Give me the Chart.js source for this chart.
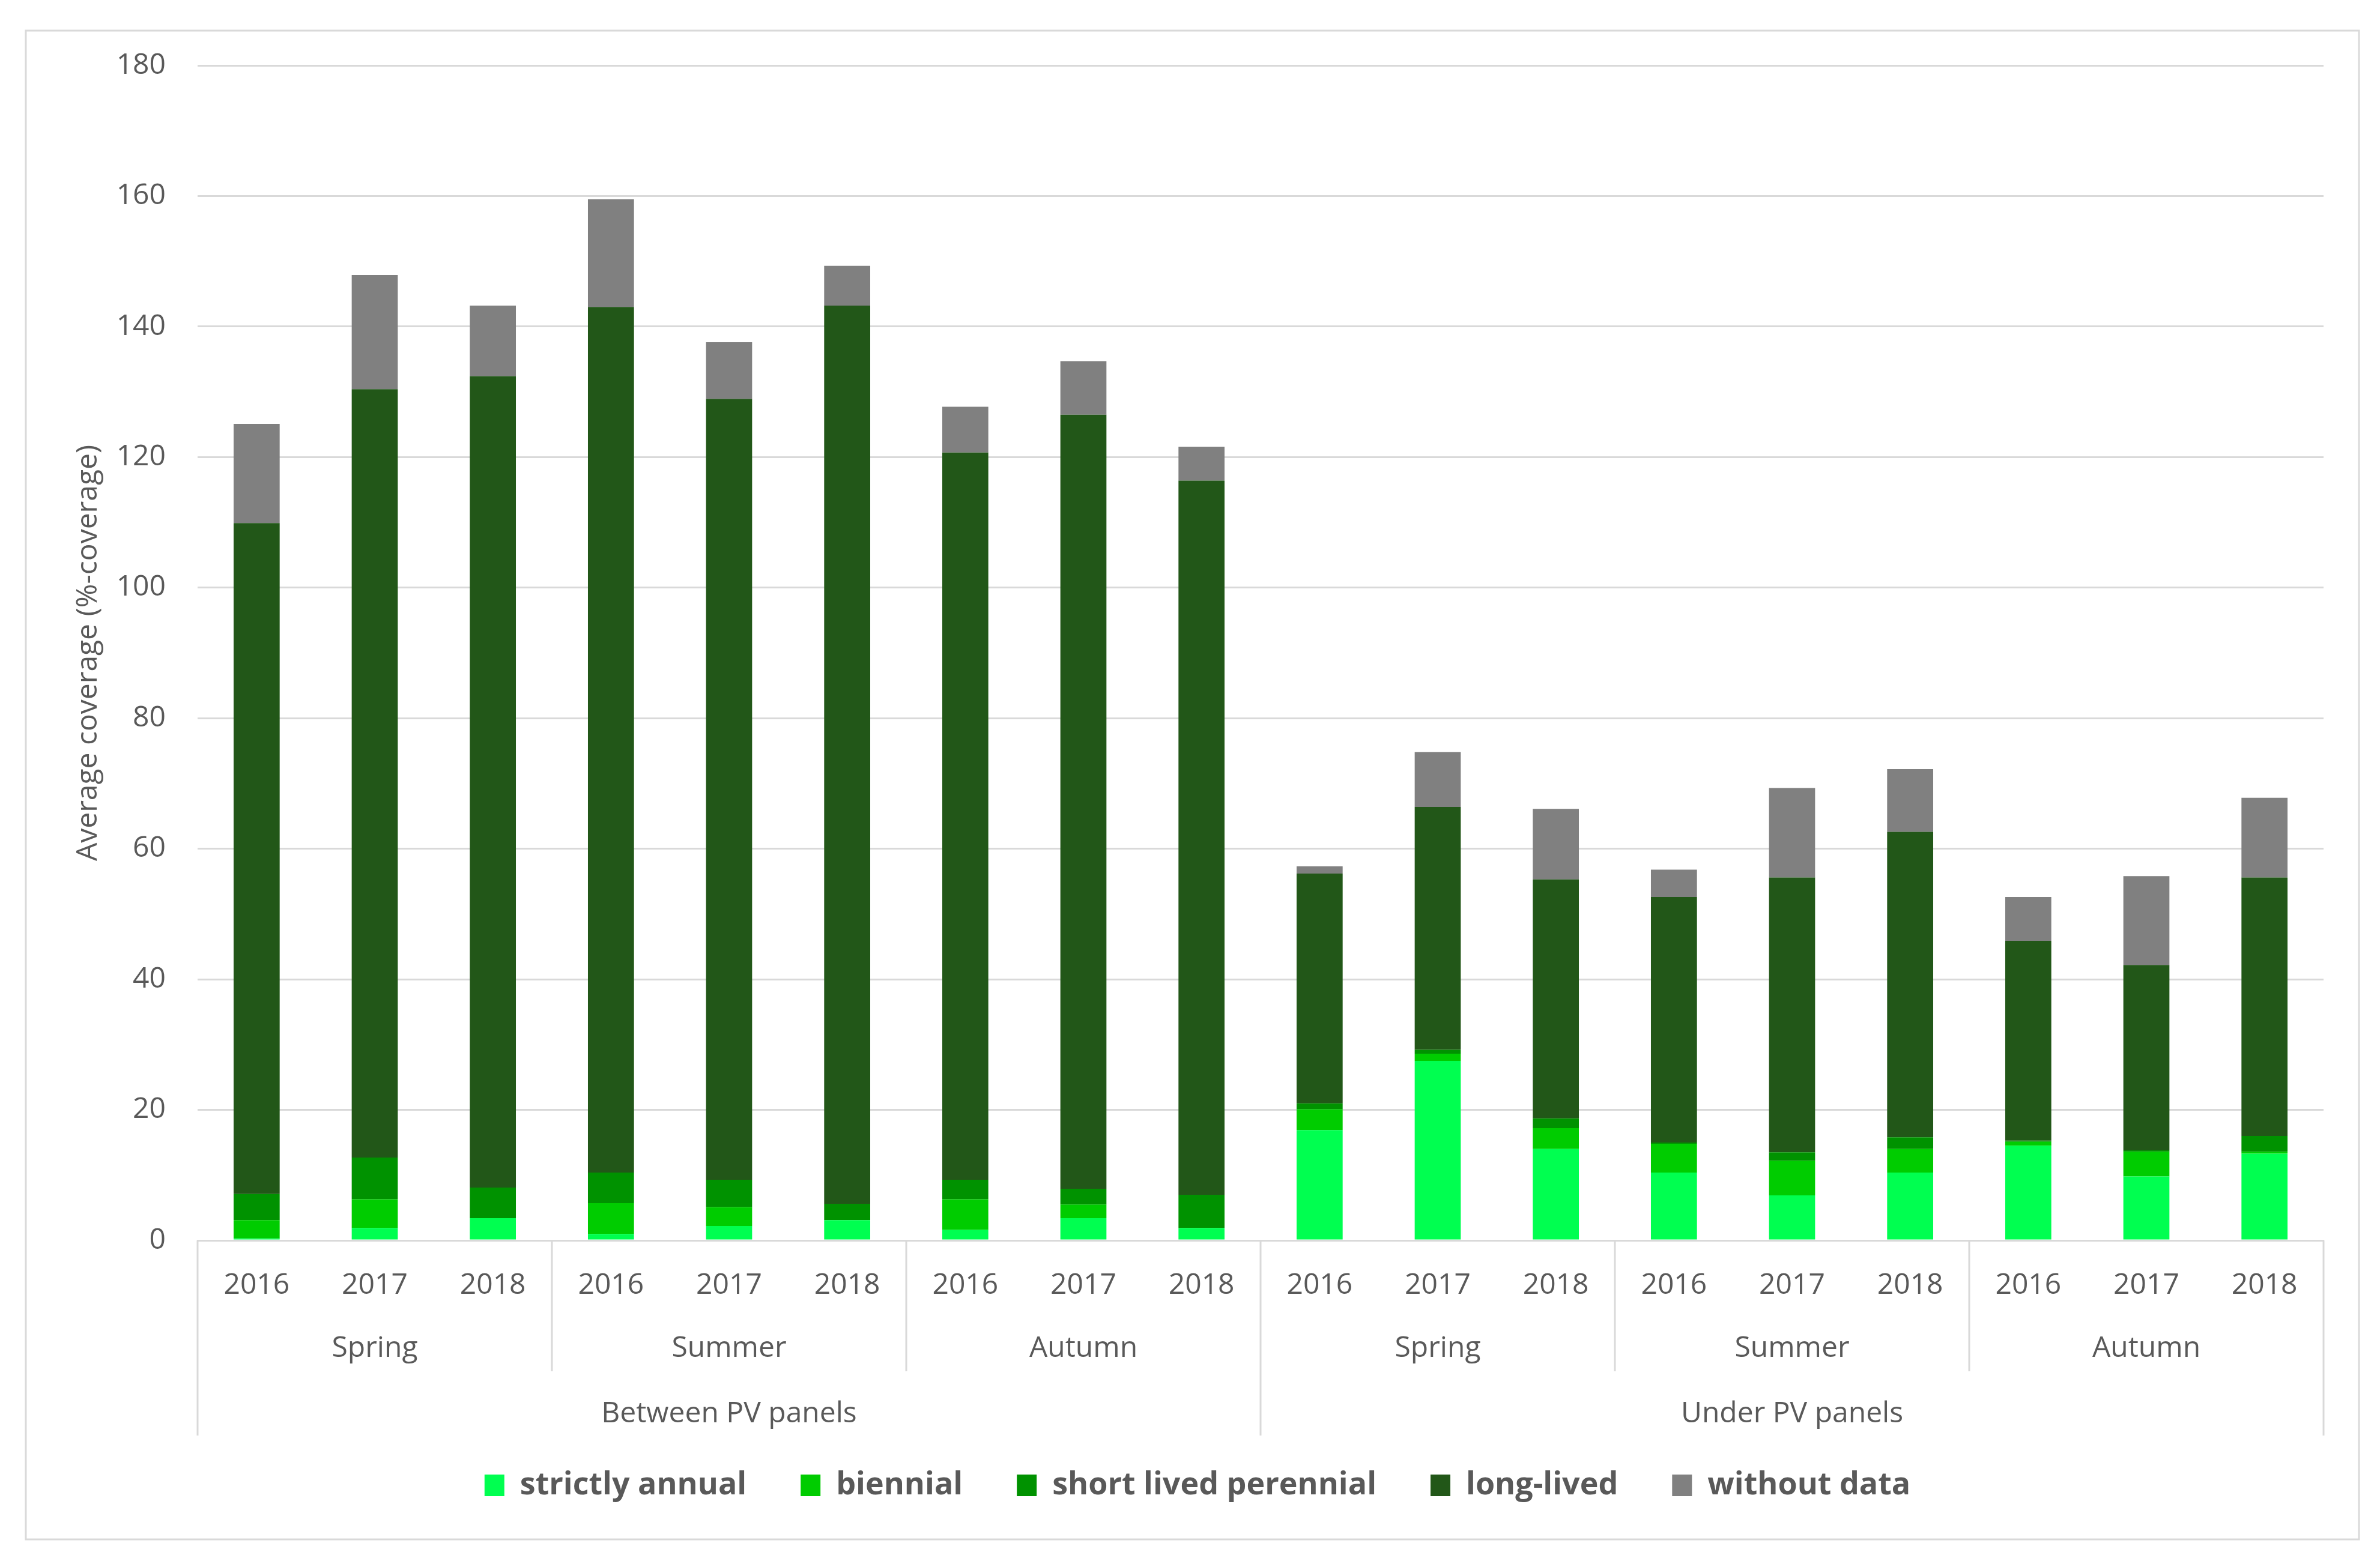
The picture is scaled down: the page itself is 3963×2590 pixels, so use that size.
<!DOCTYPE html>
<html>
<head>
<meta charset="utf-8">
<script src="https://cdn.jsdelivr.net/npm/chart.js@4/dist/chart.umd.min.js"></script>
<style>
  html,body{margin:0;padding:0;background:#fff;}
  canvas{display:block;}
</style>
</head>
<body>
<canvas id="grafico" width="3963" height="2590" style="width:3963px;height:2590px"></canvas>
<script>
/* DADOS */
const sites = ["Between PV panels", "Under PV panels"];
const seasons = ["Spring", "Summer", "Autumn"];
const years = ["2016", "2017", "2018"];
const yTicks = [0, 20, 40, 60, 80, 100, 120, 140, 160, 180];

const strictlyAnnual = [0.3, 1.9, 3.4, 1.0, 2.2, 3.1, 1.6, 3.4, 1.9, 16.9, 27.5, 14.0, 10.4, 6.9, 10.4, 14.5, 9.8, 13.3];
const biennial       = [2.8, 4.4, 0.0, 4.7, 2.9, 0.0, 4.7, 2.1, 0.0, 3.2, 1.1, 3.2, 4.4, 5.3, 3.6, 0.6, 3.8, 0.3];
const shortLived     = [4.0, 6.4, 4.7, 4.7, 4.2, 2.5, 3.0, 2.4, 5.1, 0.9, 0.6, 1.5, 0.2, 1.3, 1.8, 0.2, 0.2, 2.4];
const longLived      = [102.8, 117.7, 124.3, 132.6, 119.6, 137.6, 111.4, 118.6, 109.4, 35.2, 37.2, 36.6, 37.6, 42.1, 46.8, 30.6, 28.4, 39.6];
const withoutData    = [15.2, 17.5, 10.8, 16.5, 8.7, 6.1, 7.0, 8.2, 5.2, 1.1, 8.4, 10.8, 4.2, 13.7, 9.6, 6.7, 13.6, 12.2];

/* CATEGORIAS */
const labels = [], seasonOf = [], siteOf = [];
sites.forEach(s=>{
  seasons.forEach(se=>{
    years.forEach(y=>{
      labels.push(y);
      seasonOf.push(se);
      siteOf.push(s);
    });
  });
});

const cinza = "#595959";
const linha = "#d9d9d9";
const fonte = "'Open Sans', 'DejaVu Sans', sans-serif";

/* EIXO MULTINIVEL + MOLDURA */
const eixoGrupos = {
  id: "eixoGrupos",
  beforeDraw(chart){
    const ctx = chart.ctx;
    ctx.save();
    ctx.fillStyle = "#fff";
    ctx.fillRect(0, 0, chart.width, chart.height);
    ctx.strokeStyle = linha;
    ctx.lineWidth = 3;
    ctx.strokeRect(43, 51, 3885, 2513);
    ctx.restore();
  },
  afterDraw(chart){
    const ctx = chart.ctx;
    const x = chart.scales.x;
    const base = chart.chartArea.bottom;
    const meio = i => (x.getPixelForValue(i-1) + x.getPixelForValue(i)) / 2;
    const borda = i => i === 0 ? chart.chartArea.left : (i === labels.length ? chart.chartArea.right : meio(i));

    ctx.save();
    ctx.strokeStyle = linha;
    ctx.lineWidth = 3;
    for(let i=0;i<=labels.length;i++){
      let fim = null;
      if(i===0 || i===labels.length || siteOf[i]!==siteOf[i-1]) fim = base + 325;
      else if(seasonOf[i]!==seasonOf[i-1]) fim = base + 218;
      if(fim===null) continue;
      const px = borda(i);
      ctx.beginPath();
      ctx.moveTo(px, base);
      ctx.lineTo(px, fim);
      ctx.stroke();
    }

    ctx.fillStyle = cinza;
    ctx.font = "48px " + fonte;
    ctx.textAlign = "center";
    ctx.textBaseline = "middle";
    // estações
    let ini = 0;
    for(let i=1;i<=labels.length;i++){
      if(i===labels.length || seasonOf[i]!==seasonOf[i-1] || siteOf[i]!==siteOf[i-1]){
        ctx.fillText(seasonOf[ini], (borda(ini)+borda(i))/2, base + 180);
        ini = i;
      }
    }
    // locais
    ini = 0;
    for(let i=1;i<=labels.length;i++){
      if(i===labels.length || siteOf[i]!==siteOf[i-1]){
        ctx.fillText(siteOf[ini], (borda(ini)+borda(i))/2, base + 289);
        ini = i;
      }
    }
    ctx.restore();
  }
};

function serie(nome, dados, cor){
  return {label:nome, data:dados, backgroundColor:cor, borderWidth:0,
          barPercentage:0.39, categoryPercentage:1.0};
}

new Chart(document.getElementById("grafico"), {
  type: "bar",
  data: {
    labels: labels,
    datasets: [
      serie("strictly annual", strictlyAnnual, "#00ff50"),
      serie("biennial", biennial, "#00cc00"),
      serie("short lived perennial", shortLived, "#009200"),
      serie("long-lived", longLived, "#225718"),
      serie("without data", withoutData, "#808080")
    ]
  },
  options: {
    responsive: false,
    devicePixelRatio: 1,
    animation: false,
    layout: {padding: {left: 119, right: 94, top: 109, bottom: 80}},
    plugins: {
      tooltip: {enabled: false},
      legend: {
        position: "bottom",
        labels: {
          color: cinza,
          font: {family: fonte, size: 52, weight: "bold"},
          boxWidth: 33,
          boxHeight: 36,
          padding: 90
        }
      }
    },
    scales: {
      x: {
        stacked: true,
        grid: {display: false, drawTicks: false},
        border: {display: true, color: linha, width: 3},
        ticks: {color: cinza, font: {family: fonte, size: 48}, padding: 47, maxRotation: 0, autoSkip: false},
        afterFit(s){ s.height = 292; }
      },
      y: {
        stacked: true,
        min: 0,
        max: 180,
        afterBuildTicks(s){ s.ticks = yTicks.map(v=>({value:v})); },
        grid: {color: linha, lineWidth: 3, drawTicks: false},
        border: {display: false},
        ticks: {color: cinza, font: {family: fonte, size: 48}, padding: 53},
        title: {
          display: true,
          text: "Average coverage (%-coverage)",
          color: cinza,
          font: {family: fonte, size: 48},
          padding: {top: 0, bottom: 0}
        },
        afterFit(s){ s.width = 210; }
      }
    }
  },
  plugins: [eixoGrupos]
});
</script>
</body>
</html>
